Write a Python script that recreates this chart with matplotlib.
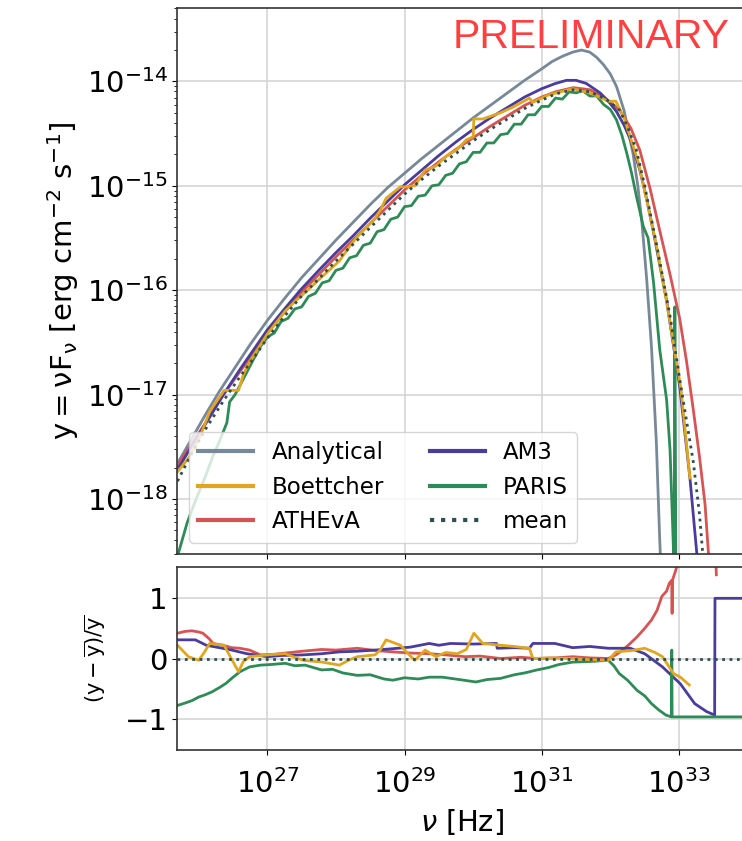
import numpy as np
import matplotlib
matplotlib.use("Agg")
import matplotlib.pyplot as plt
from matplotlib.ticker import NullLocator, FixedLocator

nan = np.nan

# ---- data: log10(nu [Hz]) and log10(nuF_nu) ----
ana_lognu = [25.69, 25.9, 26.1, 26.3, 26.5, 26.75, 27.0, 27.25, 27.5, 27.75, 28.0, 28.25,
             28.5, 28.75, 29.0, 29.25, 29.5, 29.75, 30.0, 30.25, 30.5, 30.75, 31.0, 31.15,
             31.3, 31.45, 31.58, 31.7, 31.8, 31.9, 32.0, 32.09, 32.2, 32.33, 32.4, 32.46,
             32.53, 32.6, 32.67, 32.72, 32.74]
ana_logy = [-17.66, -17.42, -17.19, -16.97, -16.77, -16.52, -16.29, -16.08, -15.88, -15.70,
            -15.52, -15.35, -15.18, -15.02, -14.88, -14.74, -14.61, -14.48, -14.35, -14.23,
            -14.11, -13.99, -13.88, -13.81, -13.76, -13.72, -13.70, -13.72, -13.77, -13.84,
            -13.93, -14.05, -14.28, -14.69, -15.0, -15.35, -15.90, -16.55, -17.45, -18.4,
            -18.7]

am3_lognu = [25.69, 25.9, 26.1, 26.36, 26.6, 26.8, 27.0, 27.25, 27.48, 27.75, 28.0, 28.25,
             28.5, 28.75, 29.0, 29.25, 29.5, 29.75, 30.0, 30.25, 30.5, 30.75, 31.0, 31.2,
             31.36, 31.5, 31.65, 31.85, 31.97, 32.09, 32.2, 32.3, 32.43, 32.53, 32.63, 32.82,
             33.01, 33.16, 33.26, 33.28]
am3_logy = [-17.72, -17.49, -17.28, -17.0, -16.76, -16.57, -16.38, -16.18, -16.0, -15.81,
            -15.64, -15.48, -15.31, -15.15, -14.99, -14.85, -14.71, -14.58, -14.46, -14.35,
            -14.25, -14.15, -14.07, -14.02, -13.99, -13.99, -14.02, -14.11, -14.19, -14.29,
            -14.42, -14.57, -14.85, -15.13, -15.45, -16.10, -16.92, -17.80, -18.52, -18.7]

ath_lognu = [25.69, 25.9, 26.1, 26.36, 26.6, 26.8, 27.0, 27.25, 27.48, 27.75, 28.0, 28.25,
             28.5, 28.75, 29.0, 29.25, 29.5, 29.75, 30.0, 30.25, 30.5, 30.75, 31.0, 31.2,
             31.46, 31.7, 31.9, 32.0, 32.14, 32.3, 32.43, 32.58, 32.72, 32.87, 33.01, 33.11,
             33.21, 33.3, 33.38, 33.43, 33.45]
ath_logy = [-17.68, -17.47, -17.27, -17.0, -16.78, -16.60, -16.41, -16.21, -16.03, -15.85,
            -15.68, -15.52, -15.36, -15.20, -15.04, -14.90, -14.77, -14.65, -14.54, -14.43,
            -14.33, -14.23, -14.15, -14.10, -14.06, -14.08, -14.15, -14.20, -14.28, -14.45,
            -14.66, -15.03, -15.43, -15.85, -16.27, -16.68, -17.15, -17.60, -18.05, -18.52,
            -18.7]

boe_lognu = [25.69, 25.85, 26.0, 26.08, 26.16, 26.37, 26.45, 26.58, 26.65, 26.74, 27.0,
             27.26, 27.4, 27.52, 27.8, 28.05, 28.2, 28.31, 28.57, 28.65, 28.73, 28.94, 29.05,
             29.15, 29.3, 29.46, 29.6, 29.77, 29.9, 30.0, 30.01, 30.14, 30.4, 30.6, 30.82,
             30.87, 31.1, 31.45, 31.7, 31.97, 32.08, 32.2, 32.41, 32.6, 32.69, 32.83, 33.03,
             33.16]
boe_logy = [-17.74, -17.61, -17.43, -17.30, -17.16, -16.96, -16.96, -16.96, -16.81, -16.69,
            -16.42, -16.20, -16.11, -16.04, -15.87, -15.72, -15.58, -15.49, -15.31, -15.23,
            -15.12, -15.01, -15.01, -15.00, -14.85, -14.81, -14.72, -14.65, -14.56, -14.53,
            -14.36, -14.36, -14.30, -14.24, -14.16, -14.20, -14.13, -14.07, -14.11, -14.19,
            -14.19, -14.35, -14.78, -15.35, -15.63, -16.15, -16.95, -17.80]

par_lognu = [25.69, 25.83, 25.95, 26.1, 26.2, 26.3, 26.41, 26.45, 26.53, 26.65, 26.8, 26.9,
             27.0, 27.1, 27.2, 27.3, 27.4, 27.5, 27.6, 27.7, 27.8, 27.9, 28.0, 28.1, 28.2,
             28.3, 28.4, 28.5, 28.6, 28.7, 28.8, 28.9, 29.0, 29.1, 29.2, 29.3, 29.4, 29.5,
             29.6, 29.7, 29.8, 29.9, 30.0, 30.1, 30.2, 30.3, 30.4, 30.5, 30.6, 30.7, 30.8,
             30.9, 31.0, 31.1, 31.2, 31.3, 31.4, 31.5, 31.6, 31.7, 31.8, 31.9, 32.0, 32.09,
             32.17, 32.24, 32.31, 32.38, 32.48, 32.55, 32.63, 32.72, 32.82, 32.87, 32.92,
             32.93, 32.94, 32.955]
par_logy = [-18.55, -18.23, -18.02, -17.78, -17.60, -17.45, -17.27, -17.07, -17.00, -16.85,
            -16.66, -16.54, -16.45, -16.41, -16.30, -16.27, -16.18, -16.16, -16.06, -16.03,
            -15.93, -15.91, -15.81, -15.79, -15.69, -15.67, -15.57, -15.55, -15.44, -15.42,
            -15.32, -15.30, -15.20, -15.19, -15.10, -15.09, -15.00, -14.99, -14.90, -14.88,
            -14.79, -14.77, -14.68, -14.68, -14.59, -14.59, -14.51, -14.50, -14.41, -14.41,
            -14.32, -14.32, -14.24, -14.24, -14.16, -14.17, -14.10, -14.11, -14.09, -14.14,
            -14.14, -14.22, -14.27, -14.37, -14.52, -14.69, -14.88, -15.10, -15.39, -15.50,
            -15.93, -16.57, -17.05, -17.53, -18.49, -18.7, -16.16, -18.7]

mean_lognu = [25.69, 25.9, 26.1, 26.36, 26.6, 26.8, 27.0, 27.25, 27.48, 27.75, 28.0, 28.25,
              28.5, 28.75, 29.0, 29.25, 29.5, 29.75, 30.0, 30.25, 30.5, 30.75, 31.0, 31.2,
              31.46, 31.7, 31.9, 32.0, 32.14, 32.26, 32.38, 32.5, 32.67, 32.87, 33.01, 33.11,
              33.21, 33.3, 33.35, 33.37]
mean_logy = [-17.83, -17.56, -17.33, -17.06, -16.83, -16.65, -16.46, -16.25, -16.07, -15.89,
             -15.72, -15.56, -15.40, -15.24, -15.08, -14.94, -14.81, -14.69, -14.57, -14.46,
             -14.36, -14.26, -14.18, -14.12, -14.08, -14.10, -14.16, -14.20, -14.28, -14.45,
             -14.66, -15.0, -15.55, -16.25, -16.85, -17.25, -17.65, -18.15, -18.55, -18.7]

# ---- residuals (y - mean)/mean ----
ath_r_lognu = [25.69, 25.8, 25.9, 26.0, 26.06, 26.15, 26.21, 26.35, 26.48, 26.6, 26.74, 26.9,
               27.1, 27.26, 27.5, 27.79, 28.0, 28.31, 28.6, 28.83, 29.1, 29.36, 29.6, 29.88,
               30.1, 30.4, 30.7, 30.93, 31.2, 31.45, 31.7, 31.97, 32.08, 32.18, 32.28, 32.39,
               32.5, 32.6, 32.68, 32.75, 32.82, 32.86, 32.895, 32.9, 32.905, 32.94, 32.97,
               33.0, nan, 33.54, 33.545]
ath_r = [0.42, 0.45, 0.46, 0.44, 0.42, 0.33, 0.25, 0.22, 0.18, 0.17, 0.14, 0.06, 0.07, 0.09,
         0.12, 0.15, 0.14, 0.17, 0.13, 0.11, 0.09, 0.08, 0.06, 0.03, 0.04, 0.0, 0.02, 0.0,
         0.01, 0.03, 0.01, 0.0, 0.06, 0.14, 0.24, 0.36, 0.50, 0.64, 0.80, 1.03, 1.12, 1.25,
         1.30, 0.75, 1.30, 1.42, 1.53, 1.65, nan, 1.55, 1.39]

am3_r_lognu = [25.69, 25.95, 26.11, 26.3, 26.48, 26.7, 27.0, 27.2, 27.52, 27.8, 28.05, 28.3,
               28.57, 28.8, 29.09, 29.36, 29.5, 29.67, 30.0, 30.34, 30.35, 30.6, 30.82, 30.87,
               31.19, 31.45, 31.7, 31.97, 32.29, 32.5, 32.76, 33.02, 33.23, 33.4, 33.52,
               33.525, 34.0]
am3_r = [0.31, 0.31, 0.22, 0.18, 0.14, 0.08, 0.03, 0.05, 0.06, 0.08, 0.11, 0.12, 0.14, 0.16,
         0.19, 0.25, 0.22, 0.25, 0.24, 0.25, 0.17, 0.18, 0.17, 0.25, 0.25, 0.18, 0.20, 0.17,
         0.17, 0.08, -0.14, -0.42, -0.75, -0.88, -0.94, 1.0, 1.0]

boe_r_lognu = [25.69, 25.85, 26.0, 26.08, 26.16, 26.37, 26.45, 26.58, 26.65, 26.74, 27.0,
               27.26, 27.4, 27.52, 27.8, 28.05, 28.2, 28.31, 28.57, 28.65, 28.73, 28.94, 29.05,
               29.15, 29.3, 29.46, 29.6, 29.77, 29.9, 30.01, 30.14, 30.4, 30.6, 30.82, 30.87,
               31.1, 31.45, 31.7, 31.97, 32.08, 32.3, 32.5, 32.65, 32.76, 32.92, 33.02, 33.15]
boe_r = [0.22, 0.03, -0.03, 0.10, 0.25, 0.22, 0.05, -0.22, -0.05, 0.03, 0.06, 0.08, 0.02,
         -0.03, -0.06, -0.11, -0.02, 0.03, 0.06, 0.15, 0.31, 0.22, 0.08, -0.03, 0.14, 0.03,
         0.10, 0.08, 0.15, 0.42, 0.25, 0.22, 0.20, 0.17, 0.0, 0.01, 0.0, -0.02, -0.03, 0.11,
         0.13, 0.17, 0.10, 0.03, -0.25, -0.31, -0.44]

par_r_lognu = [25.69, 25.8, 25.9, 26.0, 26.1, 26.2, 26.32, 26.4, 26.48, 26.6, 26.74, 26.9,
               27.05, 27.26, 27.4, 27.55, 27.79, 27.95, 28.1, 28.31, 28.5, 28.7, 28.83, 29.0,
               29.2, 29.36, 29.55, 29.8, 30.04, 30.2, 30.4, 30.6, 30.75, 30.93, 31.1, 31.25,
               31.45, 31.7, 31.97, 32.05, 32.13, 32.25, 32.39, 32.5, 32.6, 32.7, 32.81, 32.89,
               32.895, 32.9, 34.0]
par_r = [-0.78, -0.74, -0.70, -0.64, -0.60, -0.55, -0.47, -0.41, -0.33, -0.22, -0.14, -0.11,
         -0.10, -0.08, -0.12, -0.11, -0.19, -0.18, -0.24, -0.28, -0.27, -0.34, -0.36, -0.32,
         -0.34, -0.31, -0.31, -0.35, -0.39, -0.35, -0.33, -0.27, -0.24, -0.19, -0.15, -0.10,
         -0.06, -0.05, -0.03, -0.12, -0.25, -0.36, -0.53, -0.62, -0.75, -0.85, -0.94, -0.97,
         0.14, -0.97, -0.97]

mean_r_lognu = [25.69, 34.0]
mean_r = [0.0, 0.0]

# ---- style ----
c_ana = "#778899"
c_boe = "#e0a620"
c_ath = "#d65454"
c_am3 = "#4a3c9c"
c_par = "#2e8b57"
c_mean = "#2f4f4f"

plt.rcParams["font.size"] = 21
plt.rcParams["axes.edgecolor"] = "#333333"
plt.rcParams["axes.linewidth"] = 1.2

p = lambda v: 10.0 ** np.array(v, dtype=float)

fig = plt.figure(figsize=(7.42, 8.41), dpi=100)
ax1 = fig.add_axes([0.2392, 0.3413, 0.7683, 0.6492])
ax2 = fig.add_axes([0.2392, 0.1082, 0.7683, 0.2176], sharex=ax1)

lw = 2.0
h_ana, = ax1.plot(p(ana_lognu), p(ana_logy), color=c_ana, lw=lw, label="Analytical")
h_ath, = ax1.plot(p(ath_lognu), p(ath_logy), color=c_ath, lw=lw, label="ATHEvA")
h_am3, = ax1.plot(p(am3_lognu), p(am3_logy), color=c_am3, lw=lw, label="AM3")
h_par, = ax1.plot(p(par_lognu), p(par_logy), color=c_par, lw=lw, label="PARIS")
h_boe, = ax1.plot(p(boe_lognu), p(boe_logy), color=c_boe, lw=lw, label="Boettcher")
h_mean, = ax1.plot(p(mean_lognu), p(mean_logy), color=c_mean, lw=lw, ls=":", label="mean")

ax1.set_xscale("log")
ax1.set_yscale("log")
ax1.set_xlim(10 ** 25.69, 10 ** 34.0)
ax1.set_ylim(10 ** -18.527, 10 ** -13.297)
ax1.set_yticks([1e-18, 1e-17, 1e-16, 1e-15, 1e-14])
ax1.grid(True, which="major", color="#d5d5d5", lw=1.2)
ax1.set_ylabel(r"$\mathrm{y = \nu F_\nu}$ [erg cm$^{-2}$ s$^{-1}$]", fontsize=21)
ax1.tick_params(axis="x", labelbottom=False)
ax1.text(0.968, 0.947, "PRELIMINARY", transform=ax1.transAxes, ha="right", va="center",
         color="#ff4040", fontsize=29.5, family="Liberation Sans")

leg = ax1.legend(handles=[h_ana, h_boe, h_ath, h_am3, h_par, h_mean], ncol=2, loc="lower left",
                 fontsize=16.5, handlelength=2.4, framealpha=0.8)
for line in leg.get_lines():
    line.set_linewidth(3)

ax2.plot(p(ath_r_lognu), ath_r, color=c_ath, lw=lw)
ax2.plot(p(am3_r_lognu), am3_r, color=c_am3, lw=lw)
ax2.plot(p(par_r_lognu), par_r, color=c_par, lw=lw)
ax2.plot(p(boe_r_lognu), boe_r, color=c_boe, lw=lw)
ax2.plot(p(mean_r_lognu), mean_r, color=c_mean, lw=lw, ls=":")
ax2.set_ylim(-1.52, 1.52)
ax2.set_yticks([-1, 0, 1])
ax2.grid(True, which="major", color="#d5d5d5", lw=1.2)
ax2.set_ylabel(r"$\mathrm{(y-\overline{y})/\overline{y}}$", fontsize=15, labelpad=12)
ax2.set_xlabel(r"$\nu$ [Hz]", fontsize=21, labelpad=6)
ax2.tick_params(axis="x", pad=10)

ax2.xaxis.set_major_locator(FixedLocator([1e27, 1e29, 1e31, 1e33]))
ax2.xaxis.set_minor_locator(NullLocator())
ax1.set_xlim(10 ** 25.69, 10 ** 34.0)

fig.savefig("out.png", dpi=100)
